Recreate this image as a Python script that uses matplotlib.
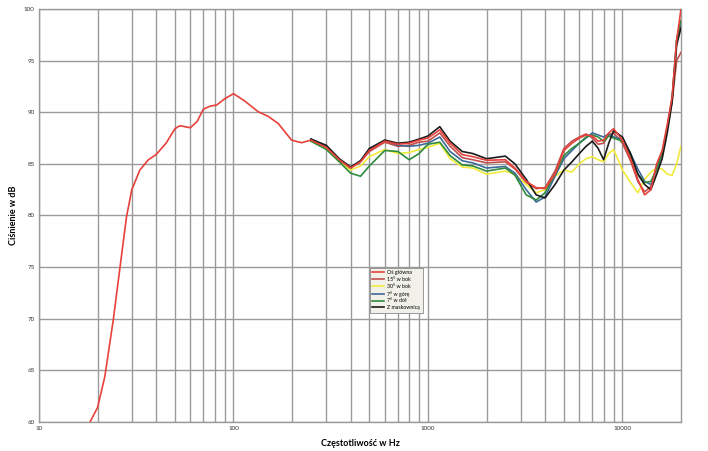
import numpy as np
import matplotlib
matplotlib.use("Agg")
import matplotlib.pyplot as plt
from matplotlib.ticker import FixedLocator, NullFormatter

plt.rcParams['font.family'] = ['Lato', 'DejaVu Sans']

# os glowna - niskie czestotliwosci (tylko ta krzywa)
low_f = [18.3, 20, 21.8, 24.1, 26.1, 28.2, 30, 33, 36.5, 40, 45, 50, 53, 60, 65, 70, 76, 82, 90,
         100, 114, 134, 151, 170, 199, 224]
low_db = [60.0, 61.4, 64.4, 69.9, 75.0, 79.9, 82.5, 84.4, 85.4, 85.9, 87.0, 88.4, 88.7, 88.5, 89.1,
          90.3, 90.6, 90.7, 91.3, 91.8, 91.1, 90.05, 89.6, 88.9, 87.3, 87.05]

freq = [250, 300, 350, 400, 450, 500, 600, 700, 800, 900, 1000, 1150, 1300, 1500, 1700, 2000,
        2500, 2800, 3200, 3600, 4000, 4500, 5000, 5500, 6000, 6500, 7000, 7500, 8000, 8500, 9000,
        10000, 11000, 12000, 13000, 14000, 15000, 16000, 17000, 18000, 19000, 20000]

os_glowna = [87.3, 86.6, 85.4, 84.6, 85.2, 86.3, 87.2, 86.9, 87.0, 87.3, 87.5, 88.3, 87.0, 85.9,
             85.7, 85.35, 85.4, 84.6, 83.3, 82.7, 82.6, 84.0, 86.3, 87.0, 87.5, 87.8, 87.7, 87.2,
             87.3, 88.0, 88.4, 87.3, 85.5, 83.5, 82.0, 82.5, 85.0, 86.3, 88.8, 91.5, 97.0, 100.0]
bok15 = [87.3, 86.6, 85.3, 84.6, 85.2, 86.2, 87.1, 86.7, 86.8, 87.1, 87.2, 88.0, 86.7, 85.6,
         85.4, 85.1, 85.2, 84.5, 83.2, 82.6, 82.7, 84.3, 86.5, 87.2, 87.6, 87.9, 87.5, 86.9,
         87.0, 87.8, 88.0, 87.0, 85.3, 83.3, 82.3, 82.8, 84.8, 86.0, 88.5, 91.0, 95.0, 95.8]
bok30 = [87.2, 86.5, 85.2, 84.4, 84.8, 85.7, 86.4, 86.0, 86.1, 86.4, 86.6, 87.0, 85.5, 84.7,
         84.6, 84.0, 84.3, 84.0, 83.0, 82.2, 82.5, 83.8, 84.4, 84.2, 85.0, 85.5, 85.7, 85.4,
         85.2, 86.0, 86.4, 84.4, 83.2, 82.2, 83.5, 84.2, 84.6, 84.5, 84.0, 83.9, 85.0, 86.7]
gora7 = [87.4, 86.7, 85.4, 84.6, 85.3, 86.4, 87.3, 86.8, 86.7, 86.8, 87.0, 87.6, 86.2, 85.3,
         85.1, 84.6, 84.75, 84.1, 82.5, 81.3, 81.8, 83.8, 85.5, 86.3, 87.0, 87.5, 88.0, 87.8,
         87.6, 87.9, 87.6, 87.4, 86.0, 84.5, 83.3, 83.0, 84.5, 86.0, 88.5, 91.3, 97.0, 98.8]
dol7 = [87.2, 86.4, 85.2, 84.1, 83.8, 84.8, 86.3, 86.2, 85.4, 86.0, 86.9, 87.1, 85.8, 84.9,
        84.8, 84.3, 84.6, 83.9, 82.0, 81.5, 82.2, 84.0, 85.8, 86.5, 87.0, 87.6, 87.8, 87.6,
        87.2, 87.7, 87.5, 87.2, 85.8, 84.0, 83.2, 83.3, 84.5, 86.0, 88.5, 91.3, 97.0, 98.9]
maskownica = [87.4, 86.8, 85.5, 84.7, 85.3, 86.5, 87.3, 87.0, 87.1, 87.4, 87.7, 88.6, 87.2, 86.2,
              86.0, 85.5, 85.75, 85.0, 83.5, 82.0, 81.7, 83.0, 84.4, 85.2, 86.0, 86.7, 87.2, 86.5,
              85.4, 87.0, 88.2, 87.6, 86.0, 84.0, 83.0, 82.5, 84.0, 85.5, 88.0, 91.0, 96.5, 98.2]

labels = ["Oś główna", "15° w bok", "30° w bok", "7° w górę", "7° w dół", "Z maskownicą"]
colors = ["#e8403a", "#c0504d", "#f2ea3c", "#3c6a9a", "#2e8a3c", "#1a1a1a"]

fig = plt.figure(figsize=(7.08, 4.51), dpi=100)
ax = fig.add_axes([39 / 708, 1 - 422 / 451, 642 / 708, 413 / 451])

ax.set_xscale('log')
ax.set_xlim(10, 20000)
ax.set_ylim(60, 100)

series = [os_glowna, bok15, bok30, gora7, dol7, maskownica]
for vals, lab, col in list(zip(series, labels, colors))[1:]:
    ax.plot(freq, vals, color=col, lw=1.2, label=lab, zorder=3,
            solid_joinstyle='round')
ax.plot(low_f + freq, low_db + os_glowna, color=colors[0], lw=1.2, label=labels[0], zorder=4,
        solid_joinstyle='round')

# siatka
minor = [m * 10 ** d for d in range(1, 5) for m in range(2, 10) if m * 10 ** d < 20000]
ax.xaxis.set_major_locator(FixedLocator([10, 100, 1000, 10000]))
ax.xaxis.set_minor_locator(FixedLocator(minor))
ax.xaxis.set_minor_formatter(NullFormatter())
ax.set_xticklabels(["10", "100", "1000", "10000"])
ax.set_yticks(np.arange(60, 101, 5))
ax.grid(True, which='both', axis='x', color='#9a9a9a', lw=1.0)
ax.grid(True, which='major', axis='y', color='#9a9a9a', lw=1.0)
ax.set_axisbelow(True)
ax.tick_params(which='both', length=0, labelsize=4.5, colors='#333333', pad=3)
for s in ax.spines.values():
    s.set_color('#9a9a9a')
    s.set_linewidth(1.0)

ax.set_xlabel("Częstotliwość w Hz", fontsize=6.5, fontweight='bold', labelpad=6)
ax.set_ylabel("Ciśnienie w dB", fontsize=6.5, fontweight='bold', labelpad=4)

handles, labs = ax.get_legend_handles_labels()
order = [labs.index(l) for l in labels]
leg = ax.legend([handles[i] for i in order], labels, loc='upper left',
                bbox_to_anchor=(0.511, 0.38), fontsize=3.8, handlelength=2.2,
                handletextpad=0.6, labelspacing=0.35, borderpad=0.5, fancybox=False,
                framealpha=1.0, facecolor='#f1f1ea', edgecolor='#8a8a8a')
leg.get_frame().set_linewidth(0.6)

fig.savefig("out.png", dpi=100)
